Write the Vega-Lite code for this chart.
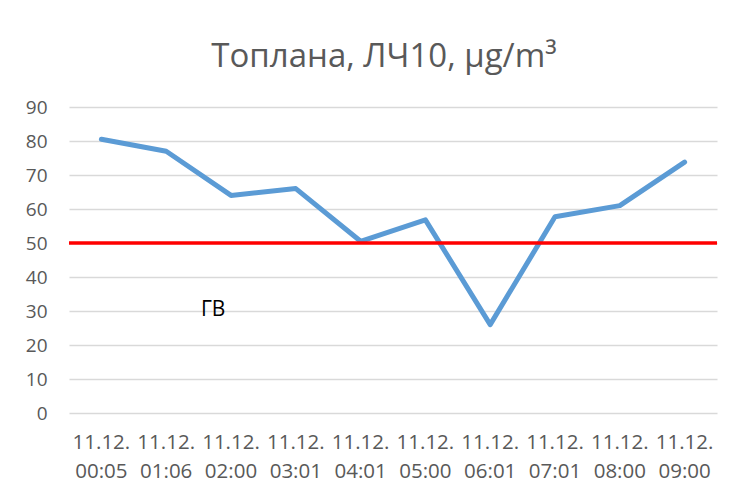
{
  "$schema": "https://vega.github.io/schema/vega-lite/v6.json",
  "width": 648,
  "height": 306,
  "padding": {"left": 25, "top": 41, "right": 22, "bottom": 2},
  "background": "white",
  "title": {
    "text": "Топлана, ЛЧ10, μg/m³",
    "font": "Open Sans",
    "fontSize": 33,
    "fontWeight": "normal",
    "color": "#595959",
    "anchor": "middle",
    "dx": -9,
    "offset": 24
  },
  "config": {
    "view": {"stroke": null},
    "font": "Open Sans"
  },
  "datasets": {
    "pm": [
      {"time": "11.12. 00:05", "value": 80.5},
      {"time": "11.12. 01:06", "value": 77},
      {"time": "11.12. 02:00", "value": 64},
      {"time": "11.12. 03:01", "value": 66},
      {"time": "11.12. 04:01", "value": 50.5},
      {"time": "11.12. 05:00", "value": 56.8},
      {"time": "11.12. 06:01", "value": 26},
      {"time": "11.12. 07:01", "value": 57.7},
      {"time": "11.12. 08:00", "value": 61},
      {"time": "11.12. 09:00", "value": 73.8}
    ],
    "limit": [{"limit": 50}],
    "note": [
      {"time": "11.12. 01:06", "value": 30.4, "label": "ГВ"}
    ]
  },
  "layer": [
    {
      "data": {"name": "pm"},
      "mark": {"type": "line", "color": "#5B9BD5", "strokeWidth": 5, "strokeCap": "round", "strokeJoin": "round"},
      "encoding": {
        "x": {
          "field": "time", "type": "nominal", "sort": null,
          "scale": {"type": "band", "paddingInner": 0, "paddingOuter": 0},
          "axis": {
            "title": null, "labelAngle": 0, "domain": false, "ticks": false,
            "labelExpr": "split(datum.label, ' ')",
            "labelFont": "Open Sans", "labelFontSize": 20.5, "labelColor": "#595959",
            "labelPadding": 19, "labelLineHeight": 29, "labelBaseline": "top"
          }
        },
        "y": {
          "field": "value", "type": "quantitative",
          "scale": {"domain": [0, 90], "nice": false, "zero": true},
          "axis": {
            "title": null, "values": [0, 10, 20, 30, 40, 50, 60, 70, 80, 90],
            "labelOverlap": false,
            "domain": false, "ticks": false, "gridColor": "#d9d9d9", "gridWidth": 1.3,
            "labelFont": "Open Sans", "labelFontSize": 19, "labelColor": "#595959",
            "labelPadding": 22
          }
        }
      }
    },
    {
      "data": {"name": "limit"},
      "mark": {"type": "rule", "color": "#FF0000", "strokeWidth": 3.5},
      "encoding": {"y": {"field": "limit", "type": "quantitative", "axis": {
            "title": null, "values": [0, 10, 20, 30, 40, 50, 60, 70, 80, 90],
            "labelOverlap": false,
            "domain": false, "ticks": false, "gridColor": "#d9d9d9", "gridWidth": 1.3,
            "labelFont": "Open Sans", "labelFontSize": 19, "labelColor": "#595959",
            "labelPadding": 22
          }}}
    },
    {
      "data": {"name": "note"},
      "mark": {"type": "text", "font": "Open Sans", "fontSize": 21, "color": "#000000", "dx": 47, "align": "center", "baseline": "middle"},
      "encoding": {
        "x": {"field": "time", "type": "nominal", "sort": null},
        "y": {"field": "value", "type": "quantitative", "axis": {
            "title": null, "values": [0, 10, 20, 30, 40, 50, 60, 70, 80, 90],
            "labelOverlap": false,
            "domain": false, "ticks": false, "gridColor": "#d9d9d9", "gridWidth": 1.3,
            "labelFont": "Open Sans", "labelFontSize": 19, "labelColor": "#595959",
            "labelPadding": 22
          }},
        "text": {"field": "label"}
      }
    }
  ]
}
